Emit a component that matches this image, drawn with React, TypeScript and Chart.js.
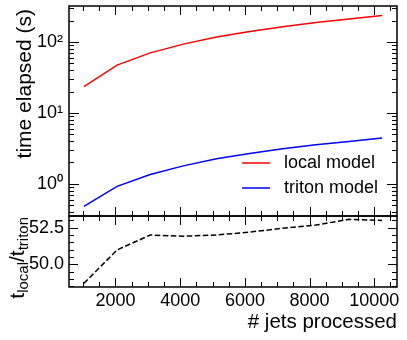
import React, { useEffect, useRef } from 'react';
import { Chart, registerables } from 'chart.js';
Chart.register(...registerables);

const jets = [1024, 2048, 3072, 4096, 5120, 6144, 7168, 8192, 9216, 10240];
const localTime = [23.4, 47, 70, 93, 117, 140, 163, 187, 210, 235];
const tritonTime = [0.48, 0.92, 1.35, 1.79, 2.25, 2.68, 3.11, 3.55, 3.96, 4.44];
const ratio = [48.7, 50.98, 52.0, 51.92, 52.0, 52.2, 52.46, 52.68, 53.07, 53.0];
const xTicks = [2000, 4000, 6000, 8000, 10000];
const timeTicks = [1, 10, 100];
const timeTickLabels = ['10\u2070', '10\u00b9', '10\u00b2'];
const ratioTicks = [50, 52.5];
const ratioTickLabels = ['50.0', '52.5'];
const seriesNames = ['local model', 'triton model'];
const seriesColors = ['#ff0000', '#0000ff'];

const FONT = "'Liberation Sans', Arial, sans-serif";

const pts = (ys: number[]) => jets.map((x, i) => ({ x, y: ys[i] }));

const framePlugin = {
  id: 'frame',
  afterDraw(chart: any) {
    const ctx = chart.ctx as CanvasRenderingContext2D;
    const sx = chart.scales.x, sy = chart.scales.y, sr = chart.scales.y2;
    const L = chart.chartArea.left, R = chart.chartArea.right;
    const T1 = sy.top, B1 = sy.bottom, T2 = sr.top, B2 = sr.bottom;
    ctx.save();
    ctx.strokeStyle = '#000';
    ctx.lineWidth = 1;
    const line = (a: number, b: number, c: number, d: number) => {
      ctx.beginPath(); ctx.moveTo(a, b); ctx.lineTo(c, d); ctx.stroke();
    };
    // x ticks
    for (let v = 1000; v <= 10500; v += 500) {
      const major = xTicks.includes(v);
      const len = major ? 9 : 5;
      const px = Math.round(sx.getPixelForValue(v)) + 0.5;
      if (px < L || px > R) continue;
      for (const [t, b] of [[T1, B1], [T2, B2]]) {
        line(px, t, px, t + len);
        line(px, b, px, b - len);
      }
    }
    // log y ticks
    for (let e = -1; e <= 2; e++) {
      for (let m = 1; m <= 9; m++) {
        const v = m * Math.pow(10, e);
        if (v < sy.min || v > sy.max) continue;
        const len = m === 1 ? 10 : 5;
        const py = Math.round(sy.getPixelForValue(v)) + 0.5;
        line(L, py, L + len, py);
        line(R, py, R - len, py);
      }
    }
    // ratio ticks
    for (let v = 48.5; v <= 53.25; v += 0.5) {
      const major = ratioTicks.includes(v);
      const len = major ? 9 : 5;
      const py = Math.round(sr.getPixelForValue(v)) + 0.5;
      if (py < T2 || py > B2) continue;
      line(L, py, L + len, py);
      line(R, py, R - len, py);
    }
    // frames
    ctx.lineWidth = 1.5;
    ctx.strokeRect(L, T1, R - L, B1 - T1);
    ctx.strokeRect(L, T2, R - L, B2 - T2);

    // legend
    ctx.font = `18px ${FONT}`;
    ctx.textBaseline = 'middle';
    ctx.textAlign = 'left';
    ctx.fillStyle = '#000';
    const ly = [163, 188];
    seriesNames.forEach((n, i) => {
      ctx.strokeStyle = seriesColors[i];
      ctx.lineWidth = 1.5;
      line(242, ly[i], 270, ly[i]);
      ctx.fillText(n, 284, ly[i]);
    });

    // x title
    ctx.font = `20.5px ${FONT}`;
    ctx.textAlign = 'right';
    ctx.textBaseline = 'middle';
    ctx.fillText('# jets processed', R, 322);

    // y title (top)
    ctx.save();
    ctx.translate(25, 9);
    ctx.rotate(-Math.PI / 2);
    ctx.font = `21px ${FONT}`;
    ctx.textAlign = 'right';
    ctx.textBaseline = 'middle';
    ctx.fillText('time elapsed (s)', 0, 0);
    ctx.restore();

    // ratio title
    ctx.save();
    ctx.translate(24, 217);
    ctx.rotate(-Math.PI / 2);
    ctx.textAlign = 'left';
    ctx.textBaseline = 'alphabetic';
    const big = `21px ${FONT}`, small = `15px ${FONT}`;
    const parts: [string, string, number][] = [
      ['t', big, 0], ['local', small, 4], ['/', big, 0], ['t', big, 0], ['triton', small, 4],
    ];
    let w = 0;
    for (const [s, f] of parts) { ctx.font = f; w += ctx.measureText(s).width; }
    let xx = -w;
    for (const [s, f, dy] of parts) {
      ctx.font = f;
      ctx.fillText(s, xx, dy);
      xx += ctx.measureText(s).width;
    }
    ctx.restore();
    ctx.restore();
  },
};

const noPadV = (w: number) => (s: any) => { s.width = w; s.paddingTop = 0; s.paddingBottom = 0; };

export default function App() {
  const ref = useRef<HTMLCanvasElement>(null);
  useEffect(() => {
    const chart = new Chart(ref.current!, {
      type: 'line',
      data: {
        datasets: [
          { label: seriesNames[0], data: pts(localTime), yAxisID: 'y', borderColor: seriesColors[0], borderWidth: 1.5, pointRadius: 0, tension: 0, fill: false },
          { label: seriesNames[1], data: pts(tritonTime), yAxisID: 'y', borderColor: seriesColors[1], borderWidth: 1.5, pointRadius: 0, tension: 0, fill: false },
          { label: 'ratio', data: pts(ratio), yAxisID: 'y2', borderColor: '#000', borderWidth: 1.5, borderDash: [5.5, 2.5], pointRadius: 0, tension: 0, fill: false },
        ],
      },
      options: {
        animation: false,
        responsive: false,
        layout: { padding: { top: 6, right: 10, left: 0, bottom: 0 } },
        plugins: { legend: { display: false }, tooltip: { enabled: false } },
        scales: {
          x: {
            type: 'linear', min: 563, max: 10701,
            grid: { display: false, drawTicks: false }, border: { display: false },
            afterBuildTicks: (s: any) => { s.ticks = xTicks.map((v) => ({ value: v })); },
            afterFit: (s: any) => { s.height = 53; s.paddingLeft = 0; s.paddingRight = 0; },
            ticks: { color: '#000', font: { family: FONT, size: 18 }, padding: 3, maxRotation: 0, autoSkip: false, callback: (v: any) => String(v) },
          },
          y: {
            type: 'logarithmic', position: 'left', stack: 'p', stackWeight: 210, weight: 2,
            min: 0.352, max: 320.6,
            grid: { display: false, drawTicks: false }, border: { display: false },
            afterBuildTicks: (s: any) => { s.ticks = timeTicks.map((v) => ({ value: v })); },
            afterFit: noPadV(69),
            ticks: { color: '#000', font: { family: FONT, size: 18 }, padding: 6, autoSkip: false, callback: (v: any) => timeTickLabels[timeTicks.indexOf(Number(v))] ?? '' },
          },
          y2: {
            type: 'linear', position: 'left', stack: 'p', stackWeight: 71, weight: 1,
            min: 48.45, max: 53.3,
            grid: { display: false, drawTicks: false }, border: { display: false },
            afterBuildTicks: (s: any) => { s.ticks = ratioTicks.map((v) => ({ value: v })); },
            afterFit: noPadV(69),
            ticks: { color: '#000', font: { family: FONT, size: 18 }, padding: 5, autoSkip: false, callback: (v: any) => ratioTickLabels[ratioTicks.indexOf(Number(v))] ?? '' },
          },
        },
      },
      plugins: [framePlugin],
    } as any);
    return () => chart.destroy();
  }, []);
  return (
    <div style={{ position: 'fixed', left: 0, top: 0, width: 407, height: 340, background: '#fff' }}>
      <canvas ref={ref} width={407} height={340} style={{ width: 407, height: 340, display: 'block' }} />
    </div>
  );
}
